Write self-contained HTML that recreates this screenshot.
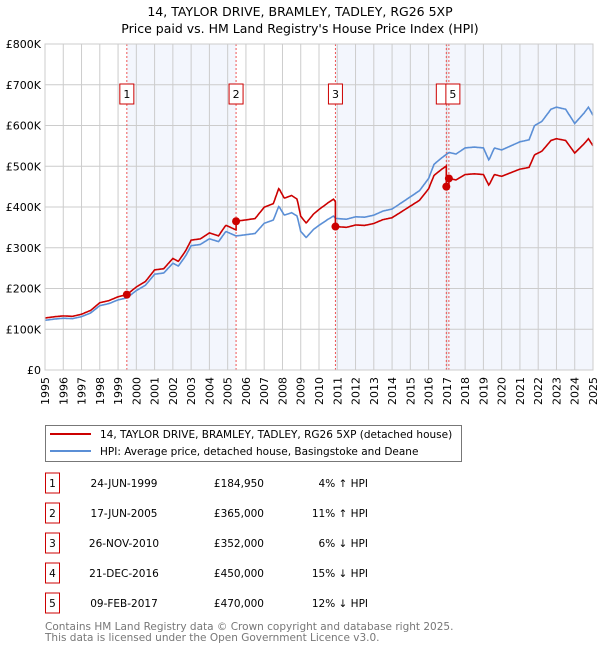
<!DOCTYPE html>
<html><head><meta charset="utf-8"><style>
body{margin:0;background:#fff;width:600px;height:650px;overflow:hidden;font-family:"DejaVu Sans","Liberation Sans",sans-serif;}
svg text{font-family:"DejaVu Sans","Liberation Sans",sans-serif;}
</style></head><body>
<svg id="chart" width="600" height="650" xmlns="http://www.w3.org/2000/svg">
<text x="300" y="16" text-anchor="middle" font-size="12.5">14, TAYLOR DRIVE, BRAMLEY, TADLEY, RG26 5XP</text>
<text x="300" y="33" text-anchor="middle" font-size="12.5">Price paid vs. HM Land Registry's House Price Index (HPI)</text>
<g id="plot"></g>
<g>
<rect x="45.5" y="425.5" width="416" height="36" fill="#fff" stroke="#777"/>
<line x1="50" y1="434" x2="91" y2="434" stroke="#cc0000" stroke-width="2"/>
<text x="100" y="438" font-size="10.5">14, TAYLOR DRIVE, BRAMLEY, TADLEY, RG26 5XP (detached house)</text>
<line x1="50" y1="451" x2="91" y2="451" stroke="#5b8fd6" stroke-width="2"/>
<text x="100" y="455" font-size="10.5">HPI: Average price, detached house, Basingstoke and Deane</text>
</g>
<g id="table" font-size="10.5"></g>
<text x="45" y="630" font-size="10.5" fill="#777">Contains HM Land Registry data © Crown copyright and database right 2025.</text>
<text x="45" y="641" font-size="10.5" fill="#777">This data is licensed under the Open Government Licence v3.0.</text>
</svg>
<script>
const hpiYears=[1995,1995.5,1996,1996.5,1997,1997.5,1998,1998.5,1999,1999.48,2000,2000.5,2001,2001.5,2002,2002.3,2002.7,2003,2003.5,2004,2004.5,2004.9,2005.46,2006,2006.5,2007,2007.5,2007.8,2008.1,2008.5,2008.8,2009.0,2009.3,2009.7,2010,2010.5,2010.8,2010.9,2011.5,2012,2012.5,2013,2013.5,2014,2014.5,2015,2015.5,2016,2016.3,2016.7,2016.97,2017.11,2017.5,2018,2018.5,2019,2019.3,2019.6,2020,2020.5,2021,2021.5,2021.8,2022.2,2022.7,2023,2023.5,2024,2024.5,2024.75,2025];
const hpiValues=[122,125,127,126,131,140,158,163,172,177,195,208,235,238,262,255,280,305,308,322,315,340,329,332,335,360,368,402,380,386,378,340,325,345,355,370,378,372,370,376,375,380,390,395,410,425,440,470,505,520,529,534,530,545,547,545,515,545,540,550,560,565,600,610,640,645,640,605,630,645,625];
const saleLabels=["1","2","3","4","5"];
const saleYears=[1999.48,2005.46,2010.9,2016.97,2017.11];
const salePrices=[184950,365000,352000,450000,470000];
const saleDates=["24-JUN-1999","17-JUN-2005","26-NOV-2010","21-DEC-2016","09-FEB-2017"];
const saleDiffs=["4% \u2191 HPI","11% \u2191 HPI","6% \u2193 HPI","15% \u2193 HPI","12% \u2193 HPI"];
const yTicks=[0,100,200,300,400,500,600,700,800];
const yTickLabels=["£0","£100K","£200K","£300K","£400K","£500K","£600K","£700K","£800K"];
const xTicks=[1995,1996,1997,1998,1999,2000,2001,2002,2003,2004,2005,2006,2007,2008,2009,2010,2011,2012,2013,2014,2015,2016,2017,2018,2019,2020,2021,2022,2023,2024,2025];

const X0=45,X1=593,Y0=370,Y1=44;
const xs=y=>X0+(y-1995)/30*(X1-X0);
const ys=v=>Y0-v/800*(Y0-Y1);
const NS="http://www.w3.org/2000/svg";
const plot=document.getElementById('plot');
function mk(tag,attrs,parent){const e=document.createElementNS(NS,tag);for(const k in attrs)e.setAttribute(k,attrs[k]);(parent||plot).appendChild(e);return e;}
function hpiAt(t){for(let i=0;i<hpiYears.length-1;i++){if(t<=hpiYears[i+1]){const f=(t-hpiYears[i])/(hpiYears[i+1]-hpiYears[i]);return hpiValues[i]+f*(hpiValues[i+1]-hpiValues[i]);}}return hpiValues[hpiValues.length-1];}

const shadeRanges=[[saleYears[0],saleYears[1]],[saleYears[2],2025]];
mk('rect',{x:X0,y:Y1,width:X1-X0,height:Y0-Y1,fill:'#fff'});
shadeRanges.forEach(r=>{const s=mk('rect',{x:xs(r[0]),y:Y1,width:xs(r[1])-xs(r[0]),height:Y0-Y1,fill:'#f3f6fd'});

});
xTicks.forEach(t=>{const l=mk('line',{x1:xs(t),x2:xs(t),y1:Y1,y2:Y0,stroke:'#cccccc','stroke-width':1});


const tx=mk('text',{x:0,y:0,'font-size':11,'text-anchor':'end',transform:`translate(${xs(t)+4},${Y0+7}) rotate(-90)`});tx.textContent=t;

});
yTicks.forEach((t,i)=>{const l=mk('line',{x1:X0,x2:X1,y1:ys(t),y2:ys(t),stroke:'#cccccc','stroke-width':1});


const tx=mk('text',{x:41,y:ys(t)+4,'font-size':11,'text-anchor':'end'});tx.textContent=yTickLabels[i];

});
saleYears.forEach((t,i)=>{const l=mk('line',{x1:xs(t),x2:xs(t),y1:Y1,y2:Y0,stroke:'#ee5555','stroke-width':1,'stroke-dasharray':'2,2'});

});
saleYears.forEach((t,i)=>{if(i===3)return;const bx=(i===4)?xs(t)-3:xs(t)-7;
if(i===4){const b0=mk('rect',{x:xs(saleYears[3])-10,y:84,width:14,height:20,fill:'#fff',stroke:'#cc0000'});}
const b=mk('rect',{x:bx,y:84,width:14,height:20,fill:'#fff',stroke:'#cc0000'});


const tx=mk('text',{x:bx+7,y:98,'font-size':11,'text-anchor':'middle'});tx.textContent=saleLabels[i];});
const fine=[];for(let t=1995;t<=2025.0001;t+=1/24)fine.push(t);
const hp=fine.map(t=>`${xs(t).toFixed(1)},${ys(hpiAt(t)).toFixed(1)}`).join(' ');
const hl=mk('polyline',{points:hp,fill:'none',stroke:'#5b8fd6','stroke-width':1.6});


const factors=saleYears.map((t,i)=>salePrices[i]/1000/hpiAt(t));
const pts=[];
fine.forEach(t=>{let k=0;for(let i=0;i<saleYears.length;i++)if(t>=saleYears[i])k=i;
pts.push([t,hpiAt(t)*factors[k]]);});
saleYears.forEach((t,i)=>{if(i>0)pts.push([t-0.0001,hpiAt(t)*factors[i-1]]);pts.push([t,salePrices[i]/1000]);});
pts.sort((a,b)=>a[0]-b[0]);
const rl=mk('polyline',{points:pts.map(p=>`${xs(p[0]).toFixed(1)},${ys(p[1]).toFixed(1)}`).join(' '),fill:'none',stroke:'#cc0000','stroke-width':1.6});


saleYears.forEach((t,i)=>{const c=mk('circle',{cx:xs(t),cy:ys(salePrices[i]/1000),r:4,fill:'#cc0000'});

});
mk('rect',{x:X0,y:Y1,width:X1-X0,height:Y0-Y1,fill:'none',stroke:'#cccccc'});
const tb=document.getElementById('table');
saleLabels.forEach((s,i)=>{const cy=483+i*30;
const b=mk('rect',{x:45.5,y:cy-10,width:14,height:20,fill:'#fff',stroke:'#cc0000'},tb);


const t1=mk('text',{x:52.5,y:cy+4,'text-anchor':'middle'},tb);t1.textContent=s;
const t2=mk('text',{x:124,y:cy+4,'text-anchor':'middle'},tb);t2.textContent=saleDates[i];


const t3=mk('text',{x:264,y:cy+4,'text-anchor':'end'},tb);t3.textContent="£"+salePrices[i].toLocaleString('en-GB');


const t4=mk('text',{x:368,y:cy+4,'text-anchor':'end'},tb);t4.textContent=saleDiffs[i];

});
</script>
</body></html>
